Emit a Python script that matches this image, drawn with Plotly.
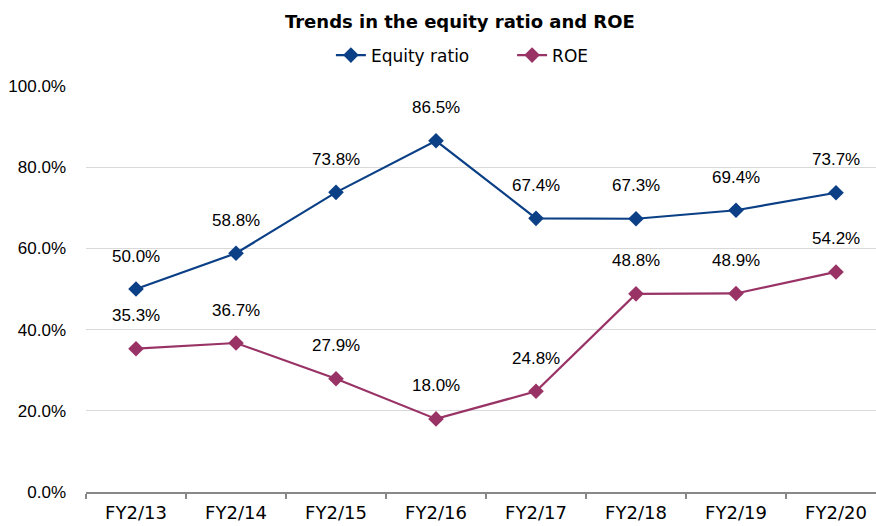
import plotly.graph_objects as go

categories = ["FY2/13", "FY2/14", "FY2/15", "FY2/16", "FY2/17", "FY2/18", "FY2/19", "FY2/20"]
equity_ratio = [50.0, 58.8, 73.8, 86.5, 67.4, 67.3, 69.4, 73.7]
roe = [35.3, 36.7, 27.9, 18.0, 24.8, 48.8, 48.9, 54.2]
y_ticks = [0, 20, 40, 60, 80, 100]

NUM_FONT = "Liberation Sans"
TXT_FONT = "DejaVu Sans"
BLUE = "#0B3F86"
PINK = "#993366"
PAD = "\u00a0" * 7

fig = go.Figure()
for name, vals, col, pad in [("Equity ratio", equity_ratio, BLUE, PAD), ("ROE", roe, PINK, "")]:
    fig.add_trace(go.Scatter(
        x=categories, y=vals, name=name + pad, mode="lines+markers",
        line=dict(color=col, width=2.2),
        marker=dict(symbol="diamond", size=12, color=col),
    ))
    for c, v in zip(categories, vals):
        fig.add_annotation(x=c, y=v, text=f"{v:.1f}%", showarrow=False,
                           yshift=33, font=dict(family=NUM_FONT, size=17, color="#000"))

fig.update_layout(
    width=876, height=526,
    margin=dict(l=86, r=0, t=86, b=34, autoexpand=False),
    plot_bgcolor="white", paper_bgcolor="white",
    title=dict(text="<b>Trends in the equity ratio and ROE</b>", x=0.525, xanchor="center",
               y=0.958, yanchor="middle", font=dict(family=TXT_FONT, size=18, color="#000")),
    legend=dict(orientation="h", x=0.31, xanchor="left", y=1.075, yanchor="middle",
                font=dict(family=TXT_FONT, size=17, color="#000")),
    showlegend=True,
    xaxis=dict(type="category", range=[-0.5, 7.4], showgrid=False, showline=True,
               linecolor="#888", linewidth=2, ticks="outside", tickson="boundaries",
               ticklen=5, tickcolor="#888", tickwidth=2, ticklabelstandoff=3,
               tickfont=dict(family=TXT_FONT, size=18, color="#000")),
    yaxis=dict(range=[0, 100], tickvals=y_ticks, ticktext=[f"{t:.1f}%" for t in y_ticks],
               showgrid=True, gridcolor="#D9D9D9", gridwidth=1, zeroline=False,
               showline=False, ticks="", ticklabelstandoff=19,
               tickfont=dict(family=NUM_FONT, size=17, color="#000")),
)
fig.write_html("out.html", config={"displayModeBar": False},
               post_script="document.body.style.margin='0';")
